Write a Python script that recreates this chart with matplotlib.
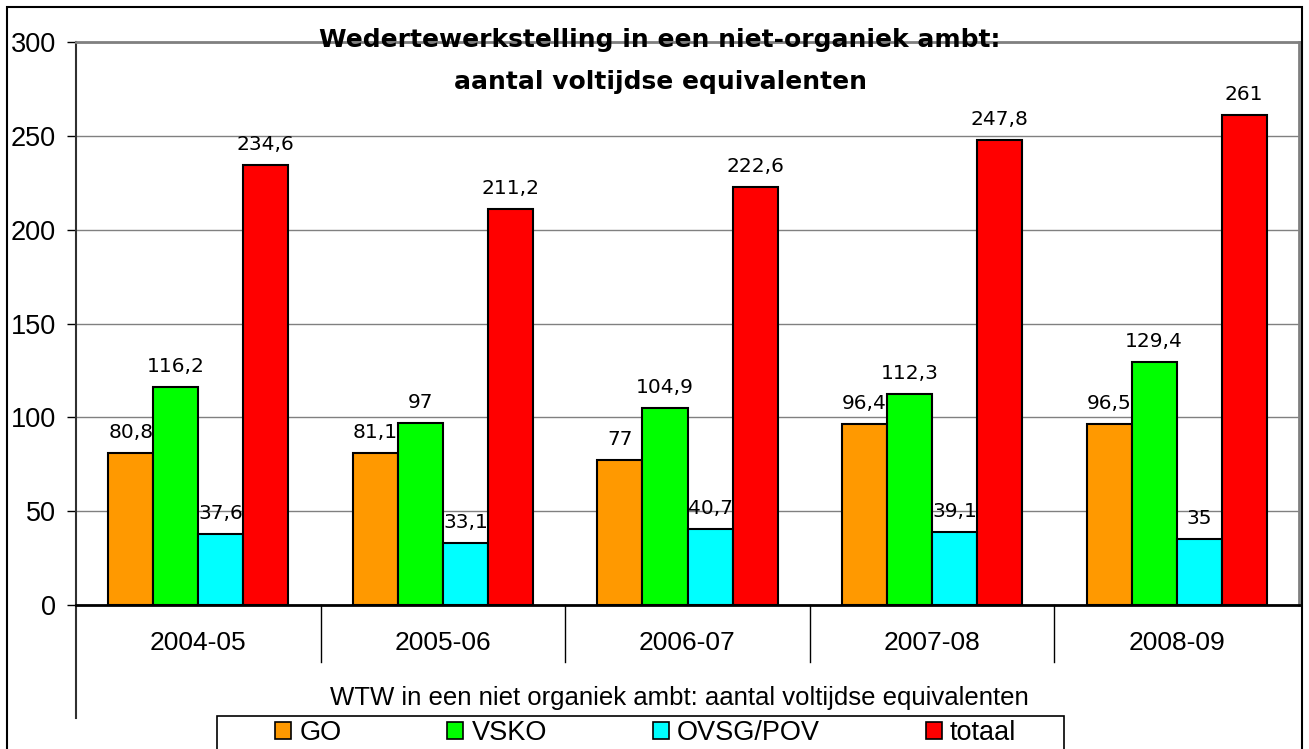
import numpy as np
import matplotlib
matplotlib.use('Agg')
import matplotlib.pyplot as plt
from matplotlib.patches import Patch, Rectangle

# data
years = ['2004-05', '2005-06', '2006-07', '2007-08', '2008-09']
series = ['GO', 'VSKO', 'OVSG/POV', 'totaal']
go = [80.8, 81.1, 77, 96.4, 96.5]
vsko = [116.2, 97, 104.9, 112.3, 129.4]
ovsg = [37.6, 33.1, 40.7, 39.1, 35]
totaal = [234.6, 211.2, 222.6, 247.8, 261]
colors = ['#FF9900', '#00FF00', '#00FFFF', '#FF0000']

W, H = 1309, 749
fig = plt.figure(figsize=(W / 100, H / 100), dpi=100)
ax = fig.add_axes([76 / W, 1 - 605 / H, (1299 - 76) / W, (605 - 42) / H])

x = np.arange(len(years))
bw = 0.184
for i, vals in enumerate([go, vsko, ovsg, totaal]):
    pos = x + (i - 1.5) * bw
    ax.bar(pos, vals, bw, color=colors[i], edgecolor='black', linewidth=1.5, zorder=3)
    for px, v in zip(pos, vals):
        ax.annotate(f"{v:g}".replace('.', ','), (px, v), xytext=(0, 8),
                    textcoords='offset points', ha='center', va='bottom',
                    fontsize=14.5, family='DejaVu Sans', zorder=4)

ax.set_xlim(-0.5, len(years) - 0.5)
ax.set_ylim(0, 300)
ax.set_yticks(range(0, 301, 50))
ax.yaxis.grid(True, color='#808080', linewidth=1, zorder=0)
ax.set_xticks(x)
ax.set_xticklabels(years, family='Liberation Sans', fontsize=19)
ax.tick_params(axis='x', length=0, pad=19)
ax.tick_params(axis='y', length=6.5, width=1, pad=8, labelsize=19.5)
for lab in ax.get_yticklabels():
    lab.set_family('Liberation Sans')

ax.spines['top'].set_color('#808080')
ax.spines['top'].set_linewidth(2)
ax.spines['right'].set_color('#808080')
ax.spines['right'].set_linewidth(2)
ax.spines['left'].set_color('#303030')
ax.spines['left'].set_linewidth(1.5)
ax.spines['bottom'].set_linewidth(2)

# category separators below the axis
tr = ax.get_xaxis_transform()
for b in np.arange(0.5, len(years) - 0.5, 1):
    ax.plot([b, b], [0, -0.101], color='black', lw=1, transform=tr, clip_on=False)
ax.plot([-0.5, -0.5], [0, -0.2], color='#303030', lw=1.5, transform=tr, clip_on=False)

fig.text(660 / W, 1 - 40 / H, 'Wedertewerkstelling in een niet-organiek ambt:',
         ha='center', va='center', fontsize=18, fontweight='bold', family='DejaVu Sans')
fig.text(660 / W, 1 - 82 / H, 'aantal voltijdse equivalenten',
         ha='center', va='center', fontsize=18, fontweight='bold', family='DejaVu Sans')

fig.text(679 / W, 1 - 698 / H, 'WTW in een niet organiek ambt: aantal voltijdse equivalenten',
         ha='center', va='center', fontsize=18.5, family='Liberation Sans')

# legend: box drawn separately, entries placed inside it
fig.add_artist(Rectangle((217 / W, -0.05), (1064 - 217) / W, 0.05 + 1 - 716 / H,
                         transform=fig.transFigure, fill=False, lw=1.2,
                         edgecolor='black', clip_on=False))
handles = [Patch(facecolor=c, edgecolor='black', linewidth=1.2) for c in colors]
fig.legend(handles, series, loc='center left',
           bbox_to_anchor=(275 / W, 1 - 733 / H), ncol=4, frameon=False,
           prop={'family': 'Liberation Sans', 'size': 19.5},
           handlelength=0.6, handleheight=0.6, handletextpad=0.3,
           columnspacing=3.9, borderpad=0, borderaxespad=0)

# outer chart border (bottom edge falls outside the image)
fig.add_artist(Rectangle((7 / W, -0.05), (1302 - 7) / W, 1 - 7 / H + 0.05,
                         transform=fig.transFigure, fill=False, lw=1.5,
                         edgecolor='black', clip_on=False))

fig.savefig('out.png', dpi=100)
